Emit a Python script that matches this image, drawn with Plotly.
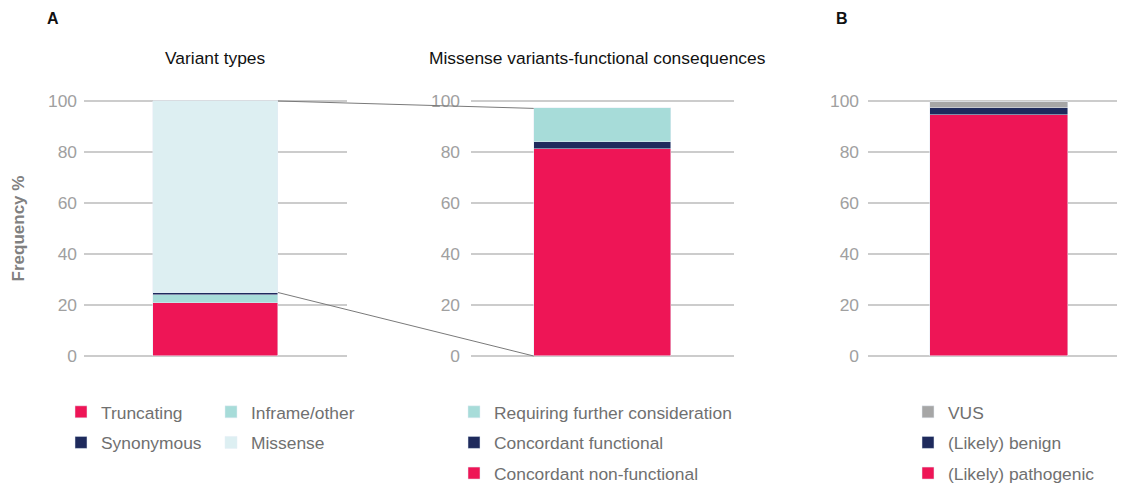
import plotly.graph_objects as go

# Panel A - variant types (% of all variants)
types_names = ["Truncating", "Inframe/other", "Synonymous", "Missense"]
types_values = [21.0, 3.0, 0.9, 75.1]
types_colors = ["#EE1556", "#A7DCD9", "#1E2A5C", "#DDEFF2"]
types_legend = ["legend", "legend2", "legend", "legend2"]

# Panel A - missense functional consequences
miss_names = ["Concordant non-functional", "Concordant functional", "Requiring further consideration"]
miss_values = [81.2, 2.7, 13.2]
miss_colors = ["#EE1556", "#1E2A5C", "#A7DCD9"]

# Panel B - classification
cls_names = ["(Likely) pathogenic", "(Likely) benign", "VUS"]
cls_values = [94.6, 2.8, 2.4]
cls_colors = ["#EE1556", "#1E2A5C", "#A6A6A6"]

FONT = "Liberation Sans, Arial, sans-serif"
W, H = 1117, 476  # page body has an 8px margin
Y_RANGE = [-1.2, 101.2]
Y_DOM = [1 - (348 + 1.2 * 2.55) / H, 1 - (93 - 1.2 * 2.55) / H]
XA_DOM = [76 / W, 339 / W]
XM_DOM = [463 / W, 726 / W]
XB_DOM = [860 / W, 1114 / W]
W_A, W_M, W_B = 0.475, 0.523, 0.543

fig = go.Figure()

for name, val, col, lg in zip(types_names, types_values, types_colors, types_legend):
    fig.add_trace(go.Bar(x=[""], y=[val], name=name, marker_color=col, width=W_A,
                         legend=lg, legendgroup=name, xaxis="x", yaxis="y"))
for i, (name, val, col) in enumerate(zip(miss_names, miss_values, miss_colors)):
    fig.add_trace(go.Bar(x=[""], y=[val], name=name, marker_color=col, width=W_M,
                         legend="legend3", legendgroup=name, legendrank=1000 - i,
                         xaxis="x2", yaxis="y2"))
for i, (name, val, col) in enumerate(zip(cls_names, cls_values, cls_colors)):
    fig.add_trace(go.Bar(x=[""], y=[val], name=name, marker_color=col, width=W_B,
                         legend="legend4", legendgroup=name, legendrank=1000 - i,
                         xaxis="x3", yaxis="y3"))


def ypaper(v):
    return Y_DOM[0] + (v - Y_RANGE[0]) / (Y_RANGE[1] - Y_RANGE[0]) * (Y_DOM[1] - Y_DOM[0])


def xpaper(dom, rng, xv):
    return dom[0] + (xv - rng[0]) / (rng[1] - rng[0]) * (dom[1] - dom[0])


# zoom connector lines: missense bar (A) -> breakdown bar
xa_right = xpaper(XA_DOM, [-0.5, 0.5], W_A / 2)
xm_left = xpaper(XM_DOM, [-0.5, 0.5], -W_M / 2)
miss_base = sum(types_values[:3])
for y0, y1 in [(miss_base + types_values[3], sum(miss_values)), (miss_base, 0)]:
    fig.add_shape(type="line", xref="paper", yref="paper",
                  x0=xa_right, y0=ypaper(y0), x1=xm_left, y1=ypaper(y1),
                  line=dict(color="#7a7a7a", width=1))

yax = dict(range=Y_RANGE, domain=Y_DOM, showgrid=True, gridcolor="#cccccc", gridwidth=1.5,
           zeroline=False, tickvals=[0, 20, 40, 60, 80, 100], ticks="", ticklen=0,
           tickfont=dict(size=17.4, color="#a0a0a0", family=FONT), showline=False,
           automargin=False)
xax = dict(showticklabels=False, showgrid=False, zeroline=False, showline=False,
           fixedrange=True, automargin=False)

leg = dict(bgcolor="rgba(0,0,0,0)", font=dict(size=17.4, color="#707070", family=FONT),
           orientation="v", xanchor="left", yanchor="top", tracegroupgap=5,
           traceorder="grouped", itemclick=False, itemdoubleclick=False)
LEG_Y = 1 - 386 / H

fig.update_layout(
    width=W, height=H,
    margin=dict(l=0, r=0, t=0, b=0, autoexpand=False),
    paper_bgcolor="white", plot_bgcolor="white",
    barmode="stack", bargap=0,
    font=dict(family=FONT),
    xaxis=dict(domain=XA_DOM, range=[-0.5, 0.5], anchor="y", **xax),
    xaxis2=dict(domain=XM_DOM, range=[-0.5, 0.5], anchor="y2", **xax),
    xaxis3=dict(domain=XB_DOM, range=[-0.516, 0.484], anchor="y3", **xax),
    yaxis=dict(anchor="x", ticklabelstandoff=6,
               title=dict(text="<b>Frequency %</b>", font=dict(size=17, color="#808080", family=FONT),
                          standoff=19), **yax),
    yaxis2=dict(anchor="x2", ticklabelstandoff=10, **yax),
    yaxis3=dict(anchor="x3", ticklabelstandoff=8, **yax),
    legend=dict(x=53 / W, y=LEG_Y, **leg),
    legend2=dict(x=203 / W, y=LEG_Y, **leg),
    legend3=dict(x=446 / W, y=LEG_Y, **leg),
    legend4=dict(x=900 / W, y=LEG_Y, **leg),
    showlegend=True,
    annotations=[
        dict(text="<b>A</b>", x=37 / W, y=1 - 10 / H, xref="paper", yref="paper",
             xanchor="left", yanchor="middle", showarrow=False, font=dict(size=16, color="#111111")),
        dict(text="<b>B</b>", x=826 / W, y=1 - 10 / H, xref="paper", yref="paper",
             xanchor="left", yanchor="middle", showarrow=False, font=dict(size=16, color="#111111")),
        dict(text="Variant types", x=(XA_DOM[0] + XA_DOM[1]) / 2, y=1 - 50 / H, xref="paper",
             yref="paper", xanchor="center", yanchor="middle", showarrow=False,
             font=dict(size=17.4, color="#111111")),
        dict(text="Missense variants-functional consequences", x=589 / W, y=1 - 50 / H,
             xref="paper", yref="paper", xanchor="center", yanchor="middle", showarrow=False,
             font=dict(size=17.4, color="#111111")),
    ],
)

fig.write_html("out.html")
